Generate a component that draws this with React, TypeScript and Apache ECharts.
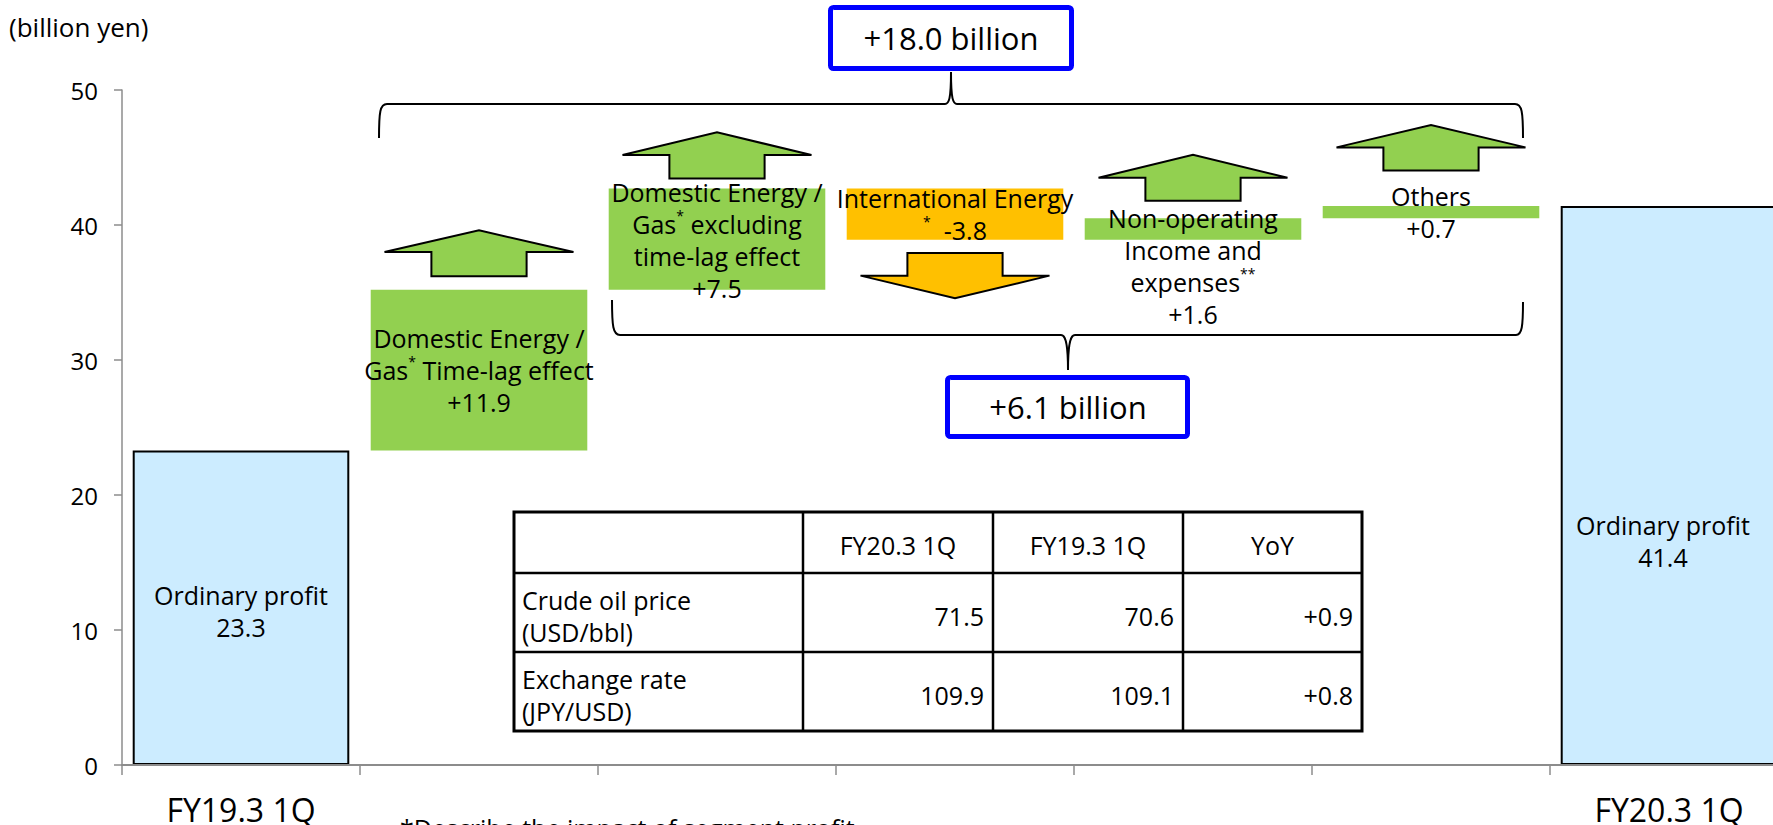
import React, { useEffect, useRef } from 'react';
import * as echarts from 'echarts';

// ---------------- data ----------------
const categories = ['FY19.3 1Q', 'Time-lag', 'Domestic', 'International', 'Non-operating', 'Others', 'FY20.3 1Q'];
const axisLabels = ['FY19.3 1Q', '', '', '', '', '', 'FY20.3 1Q'];
const totals = [23.3, null, null, null, null, null, 41.4];
const stepLow = [null, 23.3, 35.2, 38.9, 38.9, 40.5, null];
const stepHigh = [null, 35.2, 42.7, 42.7, 40.5, 41.4, null];
const stepSign = [0, 1, 1, -1, 1, 1, 0];
const totalLabels = ['Ordinary profit\n23.3', '', '', '', '', '', 'Ordinary profit\n41.4'];
const stepLabels = [
  '',
  'Domestic Energy /\nGas{s|*} Time-lag effect\n+11.9',
  'Domestic Energy /\nGas{s|*} excluding\ntime-lag effect\n+7.5',
  'International Energy\n{s|*}  -3.8',
  'Non-operating\nIncome and\nexpenses{s|**}\n+1.6',
  'Others\n+0.7',
  '',
];
const summaryLabels = ['+18.0 billion', '+6.1 billion'];
const unitLabel = '(billion yen)';
const footnote = '*Describe the impact of segment profit';

const tableCols = ['FY20.3 1Q', 'FY19.3 1Q', 'YoY'];
const tableRows = ['Crude oil price\n(USD/bbl)', 'Exchange rate\n(JPY/USD)'];
const crudeValues = ['71.5', '70.6', '+0.9'];
const fxValues = ['109.9', '109.1', '+0.8'];

// arrows: [category, tail value, neck value, tip value, direction]
const arrowCat = [1, 2, 3, 4, 5];
const arrowTail = [36.2, 43.45, 37.92, 41.8, 44.04];
const arrowNeck = [38.0, 45.19, 36.25, 43.5, 45.75];
const arrowTip = [39.6, 46.86, 34.57, 45.2, 47.4];
const arrowDir = [1, 1, -1, 1, 1];

// ---------------- styles ----------------
const FONT = '"Open Sans", sans-serif';
const GREEN = '#92D050';
const ORANGE = '#FFC000';
const LIGHTBLUE = '#CCECFF';
const BLUE = '#0000FF';
const AXIS = '#8C8C8C';
const LABEL_SIZE = 25;

const braceTopD =
  'M379 138 C379 112 380 104 387 104 L945 104 C949 104 951 99 951 72 C951 99 953 104 957 104 L1515 104 C1522 104 1523 112 1523 138';
const braceBottomD =
  'M612 300 C612 326 613 335 620 335 L1061 335 C1065 335 1068 341 1068 370 C1068 341 1071 335 1075 335 L1516 335 C1522 335 1523 326 1523 302';

echarts.graphic.registerShape('braceTop', echarts.graphic.extendPath(braceTopD, {}) as any);
echarts.graphic.registerShape('braceBottom', echarts.graphic.extendPath(braceBottomD, {}) as any);

const totalOffsets: Record<number, number[]> = { 0: [0, 3], 6: [-6, 55] };
const stepOffsets: Record<number, number[]> = { 4: [0, 37], 2: [0, 1] };

function txt(text: string, x: number, y: number, size: number, align = 'left', lineHeight?: number) {
  const style: any = {
    text,
    x: 0,
    y: 0,
    fill: '#000',
    textFill: '#000',
    fontSize: size,
    fontFamily: FONT,
    align,
    textAlign: align,
    verticalAlign: 'middle',
    textVerticalAlign: 'middle',
  };
  if (lineHeight) style.lineHeight = lineHeight;
  return { type: 'text', x, y, z: 20, style };
}

function buildTable() {
  const colX = [514, 803, 993, 1183, 1362];
  const rowY = [512, 573, 652, 731];
  const els: any[] = [];
  els.push({
    type: 'rect',
    z: 19,
    shape: { x: colX[0], y: rowY[0], width: colX[4] - colX[0], height: rowY[3] - rowY[0] },
    style: { fill: '#fff', stroke: '#000', lineWidth: 3 },
  });
  for (let i = 1; i < 3; i++) {
    els.push({
      type: 'line',
      z: 19,
      shape: { x1: colX[0], y1: rowY[i], x2: colX[4], y2: rowY[i] },
      style: { stroke: '#000', lineWidth: 2.5 },
    });
  }
  for (let i = 1; i < 4; i++) {
    els.push({
      type: 'line',
      z: 19,
      shape: { x1: colX[i], y1: rowY[0], x2: colX[i], y2: rowY[3] },
      style: { stroke: '#000', lineWidth: 2.5 },
    });
  }
  tableCols.forEach((c, i) => {
    els.push(txt(c, (colX[i + 1] + colX[i + 2]) / 2, (rowY[0] + rowY[1]) / 2 + 2, LABEL_SIZE, 'center'));
  });
  const rowVals = [crudeValues, fxValues];
  tableRows.forEach((r, ri) => {
    const cy = (rowY[ri + 1] + rowY[ri + 2]) / 2 + 3;
    els.push(txt(r, colX[0] + 8, cy, LABEL_SIZE, 'left', 32));
    rowVals[ri].forEach((v, ci) => {
      els.push(txt(v, colX[ci + 2] - 9, cy, LABEL_SIZE, 'right'));
    });
  });
  return els;
}

export default function App() {
  const ref = useRef<HTMLDivElement>(null);

  useEffect(() => {
    document.body.style.margin = '0';
    document.body.style.overflow = 'hidden';
    document.documentElement.style.overflow = 'hidden';
    if (!ref.current) return;
    const chart = echarts.init(ref.current, null, { renderer: 'svg' });

    const baseData = stepLow.map((v) => (v == null ? '-' : v));
    const incData = stepLow.map((v, i) =>
      v != null && stepSign[i] > 0
        ? { value: (stepHigh[i] as number) - v, label: { offset: stepOffsets[i] || [0, 0] } }
        : '-'
    );
    const decData = stepLow.map((v, i) =>
      v != null && stepSign[i] < 0
        ? { value: (stepHigh[i] as number) - v, label: { offset: stepOffsets[i] || [0, 0] } }
        : '-'
    );
    const totalData = totals.map((v, i) =>
      v == null ? '-' : { value: v, label: { offset: totalOffsets[i] || [0, 0] } }
    );

    const labelCommon = {
      show: true,
      position: 'inside',
      color: '#000',
      fontSize: LABEL_SIZE,
      lineHeight: 32,
      fontFamily: FONT,
      textBorderWidth: 0,
      rich: {
        s: { fontSize: 14, lineHeight: 26, verticalAlign: 'top', fontFamily: FONT, color: '#000' },
      },
    };

    const option: any = {
      animation: false,
      backgroundColor: '#fff',
      textStyle: { fontFamily: FONT },
      grid: { left: 122, top: 90, width: 1666, height: 679, containLabel: false },
      xAxis: {
        type: 'category',
        data: categories,
        z: 10,
        axisLine: { show: true, lineStyle: { color: AXIS, width: 2 } },
        axisTick: { show: true, interval: 0, length: 10, lineStyle: { color: AXIS, width: 1.5 } },
        axisLabel: {
          interval: 0,
          fontSize: 32,
          color: '#000',
          margin: 28,
          fontFamily: FONT,
          formatter: (_: string, i: number) => axisLabels[i],
        },
        splitLine: { show: false },
      },
      yAxis: {
        type: 'value',
        min: 0,
        max: 50,
        interval: 10,
        axisLine: { show: true, lineStyle: { color: AXIS, width: 1.5 } },
        axisTick: { show: true, length: 8, lineStyle: { color: AXIS, width: 1.5 } },
        axisLabel: { fontSize: 24, color: '#000', margin: 24, fontFamily: FONT },
        splitLine: { show: false },
      },
      series: [
        {
          name: 'Ordinary profit',
          type: 'bar',
          data: totalData,
          barGap: '-100%',
          barCategoryGap: '9%',
          itemStyle: { color: LIGHTBLUE, borderColor: '#000', borderWidth: 2 },
          label: { ...labelCommon, formatter: (p: any) => totalLabels[p.dataIndex] },
          z: 2,
        },
        {
          name: 'base',
          type: 'bar',
          stack: 'step',
          data: baseData,
          barGap: '-100%',
          barCategoryGap: '9%',
          itemStyle: { color: 'rgba(0,0,0,0)' },
          emphasis: { disabled: true },
          silent: true,
        },
        {
          name: 'Increase',
          type: 'bar',
          stack: 'step',
          data: incData,
          barGap: '-100%',
          barCategoryGap: '9%',
          itemStyle: { color: GREEN },
          label: { ...labelCommon, formatter: (p: any) => stepLabels[p.dataIndex] },
        },
        {
          name: 'Decrease',
          type: 'bar',
          stack: 'step',
          data: decData,
          barGap: '-100%',
          barCategoryGap: '9%',
          itemStyle: { color: ORANGE },
          label: { ...labelCommon, formatter: (p: any) => stepLabels[p.dataIndex] },
        },
        {
          name: 'arrows',
          type: 'custom',
          clip: false,
          z: 3,
          encode: { x: 0, y: [1, 2, 3] },
          data: arrowCat.map((c, i) => [c, arrowTail[i], arrowNeck[i], arrowTip[i], arrowDir[i]]),
          renderItem: (_params: any, api: any) => {
            const c = api.value(0);
            const tail = api.coord([c, api.value(1)]);
            const neck = api.coord([c, api.value(2)]);
            const tip = api.coord([c, api.value(3)]);
            const w = api.size([1, 0])[0];
            const hw = w * 0.397;
            const sw = w * 0.2;
            const x = tail[0];
            const pts = [
              [x - sw, tail[1]],
              [x - sw, neck[1]],
              [x - hw, neck[1]],
              [x, tip[1]],
              [x + hw, neck[1]],
              [x + sw, neck[1]],
              [x + sw, tail[1]],
            ];
            return {
              type: 'polygon',
              shape: { points: pts },
              style: { fill: api.value(4) < 0 ? ORANGE : GREEN, stroke: '#000', lineWidth: 2 },
            };
          },
        },
      ],
      graphic: [
        txt(unitLabel, 9, 27, 26, 'left'),
        {
          type: 'braceTop',
          x: 0,
          y: 0,
          z: 15,
          style: { fill: 'none', stroke: '#000', lineWidth: 2 },
        },
        {
          type: 'braceBottom',
          x: 0,
          y: 0,
          z: 15,
          style: { fill: 'none', stroke: '#000', lineWidth: 2 },
        },
        {
          type: 'rect',
          z: 18,
          shape: { x: 830.5, y: 7.5, width: 241, height: 61, r: 3 },
          style: { fill: '#fff', stroke: BLUE, lineWidth: 5 },
        },
        txt(summaryLabels[0], 951, 38, 31, 'center'),
        {
          type: 'rect',
          z: 18,
          shape: { x: 947.5, y: 377.5, width: 240, height: 59, r: 3 },
          style: { fill: '#fff', stroke: BLUE, lineWidth: 5 },
        },
        txt(summaryLabels[1], 1068, 407, 31, 'center'),
        ...buildTable(),
        txt(footnote, 400, 828, 25, 'left'),
      ],
    };

    chart.setOption(option);
    return () => chart.dispose();
  }, []);

  return <div ref={ref} style={{ width: 1800, height: 825 }} />;
}
